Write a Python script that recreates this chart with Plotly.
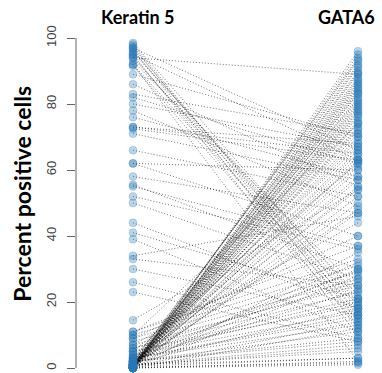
import plotly.graph_objects as go

# Paired measurements (percent positive cells), one pair per sample
keratin5 = [
    98, 97.5, 97, 96.5, 96, 95.5, 95, 94.5, 94, 93, 92, 92, 91.5, 98.5,
    94, 97, 95, 89, 86, 83, 82, 80, 78, 76, 73, 73, 72.5, 71, 66, 62, 62,
    58, 55, 55.5, 52, 50, 44, 41, 39, 34, 33, 30, 26, 23,
    14.5, 11, 10, 9, 7, 5,
    0, 0.2, 0.5, 1, 1.5, 2, 0.3, 0, 0.8, 1.2, 0, 0.4, 1, 2.5, 0, 0.6,
    1.8, 0, 0.2, 1, 3, 0, 0.5, 1.5, 0, 0.3, 2, 0, 1, 0.7, 0, 0.2, 1.4,
    0, 0.5, 2.2, 0, 1, 0.3, 0, 1.6, 0, 0.4, 0.9, 0, 2, 0.1, 0, 0.6, 1.1,
    0, 0.3, 0.7, 0, 1.2, 0.5, 0, 0.9, 0.2, 0, 1.5, 0.4,
    0, 0, 0.5, 1, 1, 2, 2, 3, 3, 4, 5, 5, 6, 7, 8, 9, 10, 11, 0, 1, 2,
    0, 0.5, 1.5, 3, 4, 6, 0, 1, 2, 0.2, 0.8, 2.5, 3.5,
]
gata6 = [
    16, 14, 18, 12, 20, 22, 10, 15, 19, 24, 2, 17, 13, 21,
    89, 66, 63, 70, 55, 71, 62, 67, 49, 58, 68, 65, 63, 57, 52, 60, 40,
    47, 37, 30, 36, 27, 18, 21, 11, 46, 25, 16, 9, 8,
    54, 37, 74, 40, 44, 62,
    96, 95, 94, 93.5, 93, 92, 91, 90, 89, 88, 87, 86.5, 86, 85, 84.5, 84,
    83.5, 83, 82, 81.5, 81, 80, 79.5, 79, 78, 77.5, 77, 76, 75, 74, 73,
    72, 71, 70, 69, 67, 66, 65, 64, 63, 61, 60, 58, 57, 55, 54, 52, 50, 48, 47,
    91.5, 89.5, 87.5, 85.5, 83, 80.5, 78.5, 76.5, 74.5, 72.5, 68, 62.5,
    1, 2, 3, 5, 7, 9, 11, 13, 15, 17, 19, 21, 23, 25, 27, 29, 31, 33, 35,
    3, 8, 12, 14, 18, 16, 20, 26, 28, 30, 32, 1.5, 6, 23.5, 29.5,
]
assert len(keratin5) == len(gata6), (len(keratin5), len(gata6))

group_labels = ["Keratin 5", "GATA6"]
y_ticks = [0, 20, 40, 60, 80, 100]

lx, ly = [], []
for a, b in zip(keratin5, gata6):
    lx += [0, 1, None]
    ly += [a, b, None]

fig = go.Figure()
fig.add_trace(go.Scatter(
    x=lx, y=ly, mode="lines", hoverinfo="skip",
    line=dict(color="rgba(0,0,0,0.55)", width=1, dash="1px,2px"),
    cliponaxis=False,
))
marker = dict(size=8, color="rgba(40,120,185,0.32)",
              line=dict(color="rgba(40,120,185,0.25)", width=0.8))
fig.add_trace(go.Scatter(x=[0] * len(keratin5), y=keratin5, mode="markers",
                         marker=marker, cliponaxis=False))
fig.add_trace(go.Scatter(x=[1] * len(gata6), y=gata6, mode="markers",
                         marker=marker, cliponaxis=False))

# axis line spanning tick range (R style)
fig.add_shape(type="line", xref="paper", yref="y", x0=0, x1=0,
              y0=y_ticks[0], y1=y_ticks[-1], line=dict(color="#666", width=1))

fig.add_annotation(x=0.02, y=1, xref="x", yref="paper",
                   text="<b>" + group_labels[0] + "</b>",
                   showarrow=False, yanchor="bottom", yshift=0,
                   font=dict(family="Lato", size=18, color="black"))
fig.add_annotation(x=0.95, y=1, xref="x", yref="paper",
                   text="<b>" + group_labels[1] + "</b>",
                   showarrow=False, yanchor="bottom", yshift=0,
                   font=dict(family="Lato", size=18, color="black"))
fig.add_annotation(x=-54 / 296, y=0.52, xref="paper", yref="paper", xanchor="center",
                   text="<b>Percent positive cells</b>", textangle=-90,
                   showarrow=False, font=dict(family="Lato", size=23, color="black"))

fig.update_layout(
    width=382, height=373, showlegend=False,
    margin=dict(l=76, r=10, t=30, b=2),
    plot_bgcolor="white", paper_bgcolor="white",
    xaxis=dict(range=[-0.2533, 1.0622], visible=False),
    yaxis=dict(range=[-0.909, 102.424], tickvals=y_ticks, ticks="outside",
               ticklen=8, tickcolor="#666", showgrid=False, zeroline=False,
               showline=False, tickangle=-90, ticklabelstandoff=6,
               tickfont=dict(family="Liberation Sans", size=13, color="#444")),
)
fig.write_html("out.html")
